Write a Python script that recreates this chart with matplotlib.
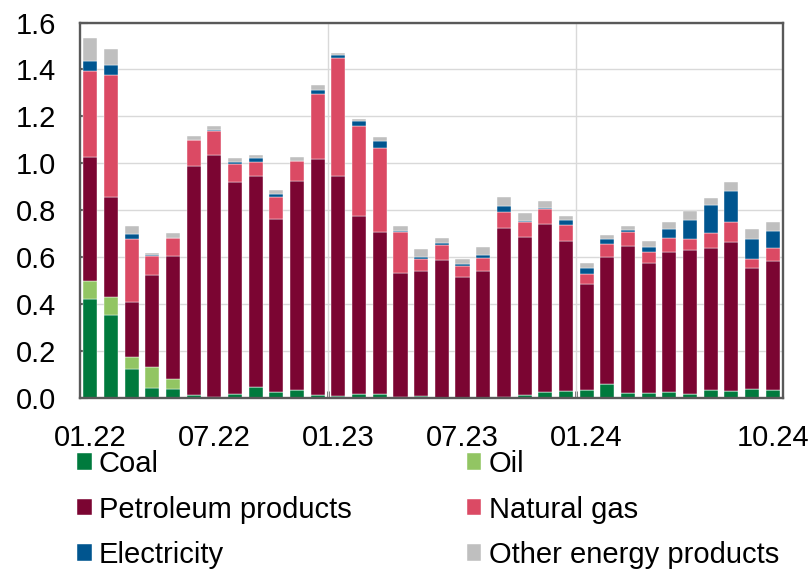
import numpy as np
import pandas as pd
import matplotlib
matplotlib.use("Agg")
import matplotlib.pyplot as plt

# -----------------------------------------------------------
# Data: monthly values by energy product, Jan 2022 - Oct 2024
# -----------------------------------------------------------

months = pd.date_range("2022-01-01", "2024-10-01", freq="MS")
shown_labels = ["01.22", "07.22", "01.23", "07.23", "01.24", "10.24"]

coal = [0.420, 0.355, 0.125, 0.043, 0.037, 0.011, 0.004, 0.018, 0.048, 0.024,
        0.033, 0.011, 0.010, 0.018, 0.016, 0.006, 0.010, 0.002, 0.002, 0.002,
        0.003, 0.013, 0.026, 0.030, 0.033, 0.061, 0.023, 0.021, 0.027, 0.018,
        0.035, 0.031, 0.037, 0.035]
oil = [0.080, 0.075, 0.050, 0.089, 0.042, 0.0, 0.0, 0.0, 0.0, 0.0,
       0.0, 0.0, 0.0, 0.0, 0.0, 0.0, 0.0, 0.0, 0.0, 0.0,
       0.0, 0.0, 0.0, 0.0, 0.0, 0.0, 0.0, 0.0, 0.0, 0.0,
       0.0, 0.0, 0.0, 0.0]
petroleum = [0.528, 0.425, 0.235, 0.393, 0.525, 0.979, 1.031, 0.901, 0.898, 0.739,
             0.890, 1.007, 0.938, 0.759, 0.693, 0.526, 0.530, 0.585, 0.513, 0.538,
             0.720, 0.674, 0.714, 0.638, 0.454, 0.539, 0.624, 0.553, 0.594, 0.612,
             0.603, 0.633, 0.516, 0.548]
natural_gas = [0.366, 0.522, 0.266, 0.082, 0.077, 0.109, 0.101, 0.078, 0.061, 0.092,
               0.087, 0.276, 0.499, 0.383, 0.358, 0.174, 0.054, 0.064, 0.047, 0.057,
               0.070, 0.062, 0.067, 0.071, 0.041, 0.058, 0.059, 0.050, 0.061, 0.049,
               0.066, 0.086, 0.040, 0.058]
electricity = [0.040, 0.043, 0.021, 0.004, 0.000, 0.001, 0.007, 0.009, 0.014, 0.015,
               0.001, 0.019, 0.014, 0.022, 0.029, 0.005, 0.006, 0.009, 0.007, 0.012,
               0.023, 0.004, 0.004, 0.018, 0.025, 0.019, 0.010, 0.019, 0.036, 0.078,
               0.119, 0.134, 0.084, 0.072]
other = [0.100, 0.068, 0.034, 0.005, 0.021, 0.017, 0.017, 0.017, 0.014, 0.017,
         0.017, 0.020, 0.009, 0.007, 0.015, 0.021, 0.033, 0.022, 0.025, 0.035,
         0.041, 0.036, 0.030, 0.019, 0.024, 0.019, 0.017, 0.028, 0.034, 0.039,
         0.028, 0.038, 0.042, 0.036]

series = [
    ("Coal", coal, "#007A3D"),
    ("Oil", oil, "#92C563"),
    ("Petroleum products", petroleum, "#7B0532"),
    ("Natural gas", natural_gas, "#DB4A64"),
    ("Electricity", electricity, "#00558F"),
    ("Other energy products", other, "#BFBFBF"),
]

# -----------------------------------------------------------
# Plot settings
# -----------------------------------------------------------

plt.rcParams.update({
    "font.family": ["Liberation Sans", "DejaVu Sans"],
    "font.size": 21,
})

frame_color = "#595959"
grid_color = "#D9D9D9"

fig = plt.figure(figsize=(8.11, 5.70), dpi=100)
ax = fig.add_axes([80 / 811, 172 / 570, 703 / 811, 375.5 / 570])

x = np.arange(len(months))
bottom = np.zeros(len(months))
for name, vals, color in series:
    vals = np.asarray(vals)
    ax.bar(x, vals, width=0.68, bottom=bottom, color=color, label=name,
           edgecolor="white", linewidth=0.3, zorder=3)
    bottom += vals

# -----------------------------------------------------------
# Axes styling
# -----------------------------------------------------------

ax.set_xlim(-0.5, len(months) - 0.5)
ax.set_ylim(0, 1.6)
ax.set_yticks(np.arange(0, 1.61, 0.2))
ax.set_yticklabels([f"{v:.1f}" for v in np.arange(0, 1.61, 0.2)])
ax.tick_params(axis="y", direction="in", length=6, width=1.5,
               color=frame_color, pad=17)

month_labels = [d.strftime("%m.%y") for d in months]
label_pos = [month_labels.index(lbl) for lbl in shown_labels]
ax.set_xticks(label_pos)
ax.set_xticklabels(shown_labels)
ax.tick_params(axis="x", length=0, pad=19)

# year boundaries: minor ticks plus vertical guides
year_starts = [i for i, d in enumerate(months) if d.month == 1 and i > 0]
boundaries = [i - 0.5 for i in year_starts]
ax.set_xticks(boundaries, minor=True)
ax.tick_params(axis="x", which="minor", direction="in", length=5, width=2,
               color=frame_color)
for b in boundaries:
    ax.axvline(b, color=grid_color, linewidth=1, zorder=1)

ax.yaxis.grid(True, color=grid_color, linewidth=1, zorder=1)
ax.set_axisbelow(True)

for spine in ax.spines.values():
    spine.set_color(frame_color)
    spine.set_linewidth(1.7)
    spine.set_zorder(4)

# -----------------------------------------------------------
# Legend below the chart
# -----------------------------------------------------------

handles, labels = ax.get_legend_handles_labels()
order = [0, 2, 4, 1, 3, 5]
fig.legend([handles[i] for i in order], [labels[i] for i in order],
           loc="upper left", bbox_to_anchor=(77 / 811, 1 - 450 / 570),
           ncol=2, frameon=False, fontsize=21,
           handlelength=0.5, handleheight=0.5, handletextpad=0.25,
           labelspacing=0.6, columnspacing=3.95, borderpad=0, borderaxespad=0)

fig.savefig("out.png", dpi=100)
